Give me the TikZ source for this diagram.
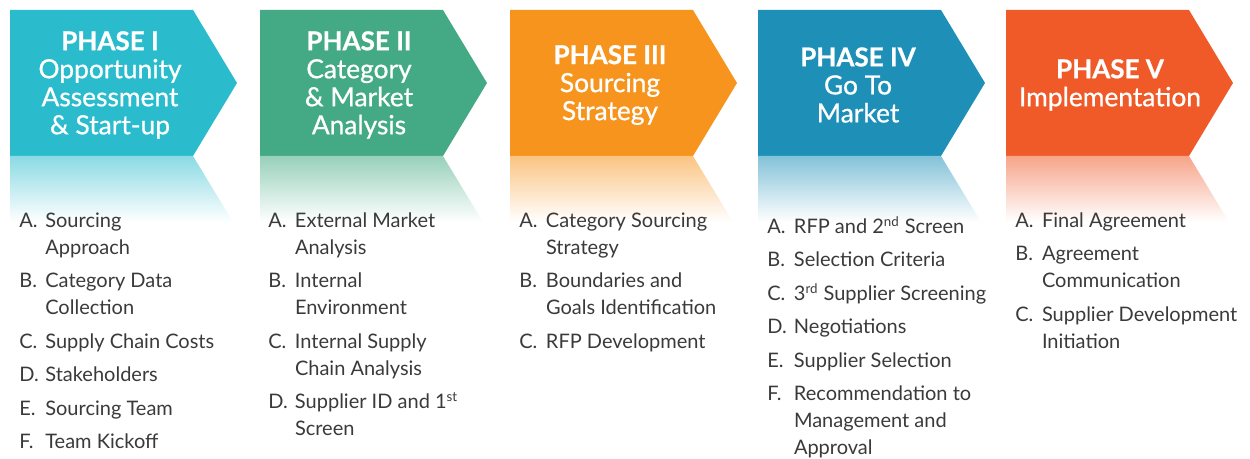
\documentclass[tikz,border=0pt]{standalone}
\usepackage{fontspec}
\setmainfont{Lato}
\newfontfamily\headfont[FakeBold=0.8]{Lato}
\usepackage{array}

\definecolor{phaseI}{HTML}{2ABCCD}
\definecolor{phaseII}{HTML}{43AA85}
\definecolor{phaseIII}{HTML}{F7941E}
\definecolor{phaseIV}{HTML}{1E90B8}
\definecolor{phaseV}{HTML}{F05A29}
\definecolor{itemgray}{HTML}{3A3A3A}

\tikzset{
  head/.style={text=white, align=center, inner sep=0pt,
               font=\headfont\fontsize{15.8}{16.8}\selectfont},
  items/.style={anchor=base west, inner sep=0pt, text=itemgray,
                font=\fontsize{12}{16.2}\selectfont}
}
\newcommand{\phasename}[1]{{\bfseries\fontsize{15.6}{16.8}\selectfont #1}}

\begin{document}
\begin{tikzpicture}[x=0.6pt,y=-0.6pt]
        \useasboundingbox (0,0) rectangle (1250,459);

%% arrows and their faded mirror images
        \foreach \col/\x in {phaseI/10, phaseII/260, phaseIII/510, phaseIV/758, phaseV/1006} {
            \fill[\col] (\x,10) -- ++(183,0) -- ++(44,73) -- ++(-44,73) -- ++(-183,0) -- cycle;
            \shade[top color=\col!55, bottom color=white]
                (\x,156) -- ++(183,0) -- ++(40,66) -- ++(-223,0) -- cycle;
        }

%% headings
        \node [head] (head1) at (110,85) {\phasename{PHASE I}\\Opportunity\\Assessment\\\& Start-up};
        \node [head] (head2) at (359,85) {\phasename{PHASE II}\\Category\\\& Market\\Analysis};
        \node [head] (head3) at (610,85) {\phasename{PHASE III}\\Sourcing\\Strategy};
        \node [head] (head4) at (858,85) {\phasename{PHASE IV}\\Go To\\Market};
        \node [head] (head5) at (1110,85) {\phasename{PHASE V}\\Implementation};

%% steps of each phase
        \node [items] (list1) at (19,227.5) {\begin{tabular}[t]{@{}p{15.6pt}@{}l@{}}
            A. & Sourcing\\ & Approach\\[3.9pt]
            B. & Category Data\\ & Collection\\[3.9pt]
            C. & Supply Chain Costs\\[3.9pt]
            D. & Stakeholders\\[3.9pt]
            E. & Sourcing Team\\[3.9pt]
            F. & Team Kickoff
        \end{tabular}};
        \node [items] (list2) at (268,227.5) {\begin{tabular}[t]{@{}p{16pt}@{}l@{}}
            A. & External Market\\ & Analysis\\[3.9pt]
            B. & Internal\\ & Environment\\[3.9pt]
            C. & Internal Supply\\ & Chain Analysis\\[3.9pt]
            D. & Supplier ID and 1\textsuperscript{st}\\ & Screen
        \end{tabular}};
        \node [items] (list3) at (519,227.5) {\begin{tabular}[t]{@{}p{16pt}@{}l@{}}
            A. & Category Sourcing\\ & Strategy\\[3.9pt]
            B. & Boundaries and\\ & Goals Identification\\[3.9pt]
            C. & RFP Development
        \end{tabular}};
        \node [items] (list4) at (767,233.5) {\begin{tabular}[t]{@{}p{16pt}@{}l@{}}
            A. & RFP and 2\textsuperscript{nd} Screen\\[3.9pt]
            B. & Selection Criteria\\[3.9pt]
            C. & 3\textsuperscript{rd} Supplier Screening\\[3.9pt]
            D. & Negotiations\\[3.9pt]
            E. & Supplier Selection\\[3.9pt]
            F. & Recommendation to\\ & Management and\\ & Approval
        \end{tabular}};
        \node [items] (list5) at (1015,227.5) {\begin{tabular}[t]{@{}p{16pt}@{}l@{}}
            A. & Final Agreement\\[3.9pt]
            B. & Agreement\\ & Communication\\[3.9pt]
            C. & Supplier Development\\ & Initiation
        \end{tabular}};
\end{tikzpicture}
\end{document}
